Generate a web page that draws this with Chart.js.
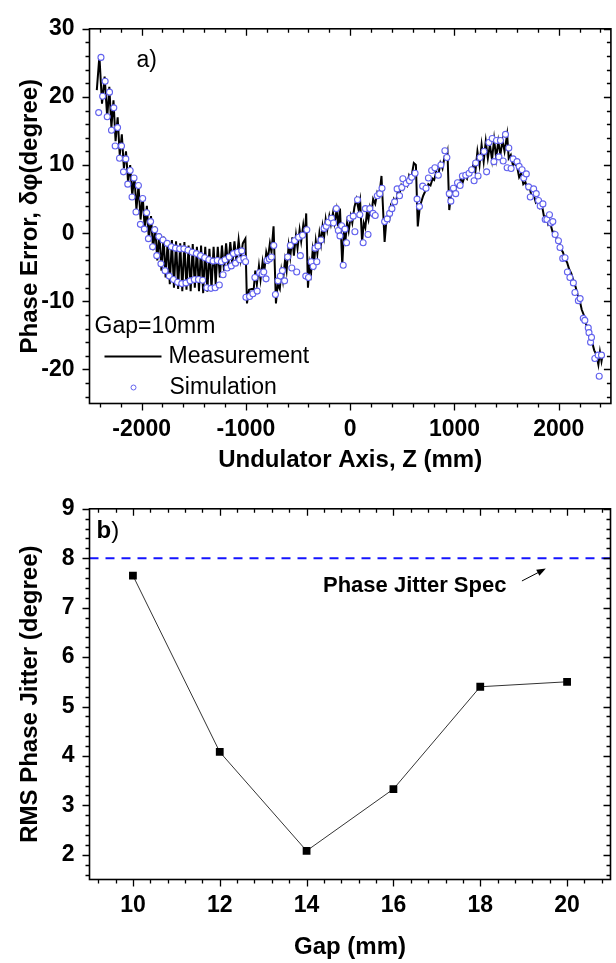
<!DOCTYPE html>
<html>
<head>
<meta charset="utf-8">
<title>Phase error and RMS phase jitter</title>
<script src="https://cdn.jsdelivr.net/npm/chart.js@4.4.1/dist/chart.umd.min.js"></script>
<style>
  body { margin: 0; background: #fff; }
  #wrap { position: relative; width: 616px; height: 963px; }
  canvas { position: absolute; left: 0; }
  #phaseChart { top: 0; }
  #jitterChart { top: 480px; }
</style>
</head>
<body>
<div id="wrap">
  <canvas id="phaseChart" width="616" height="480"></canvas>
  <canvas id="jitterChart" width="616" height="483"></canvas>
</div>
<script>
'use strict';

// panel a) phase error along the undulator, gap 10mm
let measZ = [
  -2430, -2405, -2380, -2355, -2330, -2310, -2290, -2270, -2250, -2230,
  -2210, -2190, -2170, -2150, -2130, -2110, -2090, -2070, -2050, -2030,
  -2010, -1990, -1970, -1950, -1930, -1910, -1890, -1870, -1850, -1830,
  -1810, -1790, -1770, -1750, -1730, -1710, -1690, -1670, -1650, -1630,
  -1610, -1590, -1570, -1550, -1530, -1510, -1490, -1470, -1450, -1430,
  -1410, -1390, -1370, -1350, -1330, -1310, -1290, -1270, -1250, -1230,
  -1210, -1190, -1170, -1150, -1130, -1110, -1090, -1070, -1050, -1030,
  -1005, -990, -970, -945, -925, -910, -895, -875, -860, -840,
  -825, -805, -790, -770, -755, -735, -712, -695, -675, -660,
  -645, -625, -610, -590, -575, -555, -540, -520, -505, -485,
  -470, -450, -435, -422, -405, -390, -375, -360, -345, -330,
  -315, -295, -280, -265, -250, -235, -220, -200, -185, -165,
  -150, -130, -115, -98, -76, -60, -45, -30, -15, 5,
  20, 40, 60, 80, 95, 114, 130, 145, 160, 175,
  190, 205, 220, 240, 260, 280, 300, 330, 345, 360,
  375, 390, 405, 420, 440, 455, 470, 490, 505, 525,
  545, 565, 585, 610, 630, 648, 665, 680, 700, 715,
  735, 750, 770, 790, 805, 825, 845, 865, 885, 905,
  920, 933, 950, 965, 985, 1005, 1020, 1040, 1060, 1080,
  1100, 1120, 1140, 1160, 1180, 1200, 1220, 1240, 1260, 1280,
  1300, 1320, 1340, 1360, 1380, 1400, 1420, 1440, 1460, 1480,
  1505, 1520, 1540, 1560, 1580, 1600, 1620, 1640, 1660, 1680,
  1700, 1720, 1740, 1760, 1780, 1800, 1820, 1840, 1860, 1880,
  1900, 1920, 1940, 1960, 1980, 2000, 2020, 2040, 2060, 2080,
  2100, 2120, 2140, 2160, 2180, 2200, 2220, 2240, 2260, 2280,
  2300, 2320, 2340, 2360, 2380, 2395, 2410, 2425];
let measPhase = [
  21, 26, 19, 23, 17, 21.5, 15.5, 19.5, 13.5, 17,
  11.5, 14.5, 9.5, 12, 7.5, 10, 5.5, 8.5, 3.5, 7,
  2, 5.5, 0.5, 4, -1, 2.5, -2.5, 1, -4, 0,
  -5.5, -0.5, -6.5, -1, -7.5, -1, -8, -1.2, -8.2, -1.5,
  -8.5, -1.3, -8.3, -1.8, -8.5, -1.6, -8, -2, -8.5, -1.8,
  -8.8, -2, -8.6, -2.3, -8.2, -2, -7.5, -2, -6.5, -1.8,
  -5.5, -1.5, -5, -1.3, -4.5, -1.2, -4.2, -1, -3.8, -1.5,
  -0.8, -10.3, -8.3, -8.2, -8.2, -5.5, -7.5, -4.8, -6.8, -4.2,
  -5.8, -2.8, -3.8, -1.5, -2.8, 1.0, -10.3, -7.5, -8.2, -5.5,
  -7, -4, -5.5, -1.8, -3.5, -0.6, -3.3, -0.3, -2.2, 0.5,
  -1.2, 1.2, -0.5, 2.9, -8.0, -4.5, -5.8, -2.5, -4.2, -1.2,
  -3, 0, -1.5, 1.0, -0.5, 2.0, 0.5, 2.5, 1.3, 3.0,
  1.5, 3.4, 1.0, 3.6, -4.7, 0.2, -1.0, 1.5, 0.3, 2.5,
  1.5, 3.8, 5.0, 3.5, 4.8, -1.3, 1.5, 0.8, 3.0, 2.0,
  3.8, 3.0, 5.0, 4.3, 6.0, 5.5, 8.4, -1.3, 1.5, 2.5,
  2.0, 4.0, 3.5, 5.0, 4.5, 6.0, 5.5, 7.0, 6.5, 7.5,
  7.0, 8.5, 8.0, 10.3, 10.0, 1.0, 3.5, 4.5, 5.5, 6.0,
  6.5, 7.2, 7.0, 8.0, 7.8, 9.0, 8.5, 10.3, 9.5, 11.2,
  11.0, 11.9, 3.4, 5.5, 6.3, 6.0, 7.0, 6.8, 8.0, 7.5,
  8.5, 8.0, 9.2, 8.8, 10.0, 9.0, 12.0, 10.0, 13.0, 10.5,
  13.5, 11.0, 13.0, 10.8, 13.8, 11.0, 13.5, 11.5, 13.6, 12.0,
  14.5, 11.0, 11.5, 10.0, 10.2, 9.8, 8.2, 8.8, 7.2, 7.5,
  6.5, 6.8, 5.3, 5.6, 4.5, 4.8, 3.7, 4.0, 2.3, 2.5,
  1.2, 1.4, 0.2, 0.2, -0.8, -1.0, -2.3, -2.8, -3.8, -4.3,
  -5.3, -5.9, -7.0, -7.8, -9.0, -9.8, -11.2, -12.0, -13.3, -14.0,
  -15.3, -16.0, -17.2, -17.8, -19.3, -17.4, -18.8, -17.5];

let simZ = [
  -2412, -2390, -2374, -2350, -2330, -2308, -2289, -2267, -2254, -2231,
  -2212, -2193, -2174, -2152, -2133, -2110, -2092, -2073, -2054, -2031,
  -2012, -1990, -1974, -1952, -1935, -1914, -1895, -1875, -1855, -1835,
  -1815, -1795, -1775, -1755, -1735, -1715, -1695, -1675, -1655, -1635,
  -1615, -1595, -1575, -1555, -1535, -1515, -1495, -1475, -1455, -1435,
  -1415, -1395, -1375, -1355, -1335, -1315, -1295, -1275, -1255, -1235,
  -1219, -1200, -1180, -1160, -1140, -1120, -1100, -1080, -1060, -1040,
  -1020, -1003, -1000, -965, -933, -914, -892, -870, -845, -829,
  -807, -797, -775, -755, -733, -717, -692, -670, -650, -629,
  -600, -574, -560, -533, -513, -495, -478, -457, -426, -416,
  -400, -374, -355, -336, -320, -309, -280, -250, -230, -210,
  -178, -160, -133, -114, -98, -82, -67, -50, -35, -3,
  29, 45, 70, 92, 124, 146, 171, 188, 219, 240,
  260, 283, 305, 330, 355, 378, 400, 426, 450, 473,
  495, 505, 536, 568, 590, 622, 641, 664, 695, 727,
  750, 781, 812, 845, 870, 908, 927, 950, 965, 990,
  1012, 1029, 1054, 1076, 1108, 1140, 1165, 1188, 1203, 1226,
  1245, 1283, 1308, 1330, 1362, 1378, 1403, 1426, 1441, 1467,
  1489, 1505, 1521, 1543, 1562, 1600, 1620, 1648, 1664, 1689,
  1711, 1727, 1759, 1784, 1806, 1822, 1848, 1870, 1886, 1911,
  1924, 1943, 1965, 1997, 2012, 2038, 2060, 2083, 2107, 2140,
  2155, 2188, 2205, 2235, 2250, 2283, 2290, 2305, 2314, 2346,
  2378, 2388, 2410];
let simPhase = [
  17.7, 25.8, 20.1, 22.3, 17.1, 20.7, 15.1, 18.4, 12.8, 15.5,
  11.0, 12.8, 9.0, 10.9, 7.2, 9.2, 5.3, 8.1, 3.1, 7.0,
  1.3, 5.1, 0.6, 3.0, -0.8, 1.7, -2.0, 0.5, -3.3, -0.5,
  -4.5, -1.0, -5.5, -1.5, -6.3, -2.0, -6.8, -2.2, -7.2, -2.3,
  -7.4, -2.3, -7.3, -2.5, -7.0, -2.8, -6.8, -3.0, -6.8, -3.3,
  -6.9, -3.6, -8.0, -3.9, -8.1, -4.1, -8.0, -4.0, -7.6, -4.2,
  -6.1, -3.9, -5.1, -3.5, -4.8, -3.0, -4.4, -2.8, -3.9, -2.6,
  -3.7, -4.2, -9.4, -9.3, -8.9, -6.5, -8.5, -5.8, -6.0, -5.7,
  -6.7, -4.0, -3.8, -3.5, -1.8, -9.0, -7.0, -6.3, -5.5, -7.0,
  -3.5, -1.8, -5.1, -1.1, -5.7, -0.6, -3.3, -0.3, -6.3, 0.5,
  -6.5, -4.2, -4.9, -2.2, -4.2, -1.9, -1.0, 0.7, 1.0, 1.6,
  2.2, 1.5, 3.6, 0.4, -0.4, 1.1, -4.7, 0.6, -1.4, 2.2,
  2.5, 0.2, 4.9, 2.7, -1.4, 3.6, -0.2, 3.6, 2.9, 2.6,
  5.5, 5.8, 6.6, 1.7, 2.1, 2.9, 3.6, 4.6, 6.5, 5.5,
  6.7, 8.0, 7.3, 7.7, 8.2, 8.8, 5.0, 3.9, 6.9, 6.6,
  8.1, 9.2, 9.6, 8.5, 10.0, 12.1, 11.1, 5.8, 4.7, 6.6,
  5.8, 7.4, 7.0, 8.4, 8.5, 8.8, 9.3, 7.7, 10.3, 8.4,
  11.1, 12.0, 9.0, 13.3, 13.9, 10.5, 13.6, 11.2, 13.6, 10.6,
  14.5, 9.6, 12.5, 9.5, 10.9, 10.5, 9.8, 9.3, 8.1, 8.7,
  6.8, 5.3, 6.5, 5.8, 4.8, 4.0, 4.3, 2.0, 2.0, 2.7,
  1.5, 1.7, -0.2, -1.1, -2.1, -3.7, -3.6, -5.7, -6.5, -7.3,
  -8.7, -9.9, -9.6, -12.5, -12.8, -13.9, -14.6, -16.0, -15.3, -18.4,
  -17.9, -21.0, -17.9];

let zTicks = [-2000, -1000, 0, 1000, 2000];
let phaseTicks = [-20, -10, 0, 10, 20, 30];

// panel b) rms phase jitter against gap
let gapMm = [10, 12, 14, 16, 18, 20];
let rmsJitter = [7.65, 4.08, 2.08, 3.33, 5.4, 5.5];
let specJitter = 8;
let gapTicks = [10, 12, 14, 16, 18, 20];
let jitterTicks = [2, 3, 4, 5, 6, 7, 8, 9];
let gapMin = 9;
let gapMax = 21;

const fontFamily = "'Liberation Sans', Arial, Helvetica, sans-serif";
const tickFont = {family: fontFamily, size: 23, weight: 'bold'};
const titleFont = {family: fontFamily, size: 24, weight: 'bold'};
const simColor = '#6262ee';

function toPoints(xs, ys) {
  return xs.map((x, i) => ({x: x, y: ys[i]}));
}

function fixedTicks(list) {
  return function (scale) {
    scale.ticks = list.map(v => ({value: v}));
  };
}

function stepValues(min, max, step) {
  let out = [];
  let start = Math.ceil(min / step - 1e-9);
  let end = Math.floor(max / step + 1e-9);
  for (let k = start; k <= end; k++) {
    out.push(k * step);
  }
  return out;
}

function isMajor(v, major) {
  let r = v / major;
  return Math.abs(r - Math.round(r)) < 1e-6;
}

// box round the plot, ticks out on left/bottom and in on top/right
const boxTicks = {
  id: 'boxTicks',
  afterDraw(chart, args, opts) {
    const ctx = chart.ctx;
    const a = chart.chartArea;
    const xs = chart.scales.x;
    const ys = chart.scales.y;
    ctx.save();
    ctx.strokeStyle = '#000';
    ctx.lineWidth = 1.6;
    ctx.strokeRect(a.left, a.top, a.right - a.left, a.bottom - a.top);
    ctx.lineWidth = 1.3;
    ctx.beginPath();
    stepValues(xs.min, xs.max, opts.xMinor).forEach(v => {
      let len = isMajor(v, opts.xMajor) ? 7 : 4;
      let px = Math.round(xs.getPixelForValue(v)) + 0.5;
      ctx.moveTo(px, a.bottom);
      ctx.lineTo(px, a.bottom + len);
      ctx.moveTo(px, a.top);
      ctx.lineTo(px, a.top + len);
    });
    stepValues(ys.min, ys.max, opts.yMinor).forEach(v => {
      let len = isMajor(v, opts.yMajor) ? 7 : 4;
      let py = Math.round(ys.getPixelForValue(v)) + 0.5;
      ctx.moveTo(a.left - len, py);
      ctx.lineTo(a.left, py);
      ctx.moveTo(a.right - len, py);
      ctx.lineTo(a.right, py);
    });
    ctx.stroke();
    ctx.restore();
  }
};

// "a)" and the legend inside panel a
const phaseNotes = {
  id: 'phaseNotes',
  afterDraw(chart) {
    const ctx = chart.ctx;
    const a = chart.chartArea;
    ctx.save();
    ctx.fillStyle = '#000';
    ctx.textBaseline = 'middle';
    ctx.font = '23px ' + fontFamily;
    ctx.fillText('a)', a.left + 47, a.top + 32);
    ctx.fillText('Gap=10mm', a.left + 5, a.bottom - 77);
    ctx.fillText('Measurement', a.left + 79, a.bottom - 47);
    ctx.fillText('Simulation', a.left + 80, a.bottom - 16);
    ctx.strokeStyle = '#000';
    ctx.lineWidth = 2;
    ctx.beginPath();
    ctx.moveTo(a.left + 15, a.bottom - 47);
    ctx.lineTo(a.left + 72, a.bottom - 47);
    ctx.stroke();
    ctx.strokeStyle = simColor;
    ctx.lineWidth = 1;
    ctx.beginPath();
    ctx.arc(a.left + 44, a.bottom - 16, 2.5, 0, Math.PI * 2);
    ctx.stroke();
    ctx.restore();
  }
};

// "b)", spec label and its arrow in panel b
const jitterNotes = {
  id: 'jitterNotes',
  afterDraw(chart) {
    const ctx = chart.ctx;
    const a = chart.chartArea;
    const xs = chart.scales.x;
    const ys = chart.scales.y;
    ctx.save();
    ctx.fillStyle = '#000';
    ctx.textBaseline = 'middle';
    ctx.font = 'bold 24px ' + fontFamily;
    ctx.fillText('b', a.left + 7, a.top + 23);
    let bw = ctx.measureText('b').width;
    ctx.font = '24px ' + fontFamily;
    ctx.fillText(')', a.left + 7 + bw, a.top + 23);

    ctx.font = 'bold 22px ' + fontFamily;
    ctx.textAlign = 'center';
    ctx.fillText('Phase Jitter Spec', xs.getPixelForValue(16.49), ys.getPixelForValue(7.44));

    let x0 = xs.getPixelForValue(18.96), y0 = ys.getPixelForValue(7.54);
    let x1 = xs.getPixelForValue(19.51), y1 = ys.getPixelForValue(7.79);
    let ang = Math.atan2(y1 - y0, x1 - x0);
    ctx.strokeStyle = '#000';
    ctx.lineWidth = 1;
    ctx.beginPath();
    ctx.moveTo(x0, y0);
    ctx.lineTo(x1 - 6 * Math.cos(ang), y1 - 6 * Math.sin(ang));
    ctx.stroke();
    ctx.beginPath();
    ctx.moveTo(x1, y1);
    ctx.lineTo(x1 - 9 * Math.cos(ang) + 3.5 * Math.sin(ang), y1 - 9 * Math.sin(ang) - 3.5 * Math.cos(ang));
    ctx.lineTo(x1 - 9 * Math.cos(ang) - 3.5 * Math.sin(ang), y1 - 9 * Math.sin(ang) + 3.5 * Math.cos(ang));
    ctx.closePath();
    ctx.fill();
    ctx.restore();
  }
};

function axisX(min, max, ticks, title, height, padBottom) {
  return {
    type: 'linear',
    min: min,
    max: max,
    afterBuildTicks: fixedTicks(ticks),
    afterFit: s => { s.height = height; },
    grid: {display: false, drawTicks: false, tickLength: 0},
    border: {display: false},
    ticks: {font: tickFont, color: '#000', padding: 12, maxRotation: 0, autoSkip: false, callback: v => String(v)},
    title: {display: true, text: title, font: titleFont, color: '#000', padding: {top: 0, bottom: padBottom}}
  };
}

function axisY(min, max, ticks, title) {
  return {
    type: 'linear',
    min: min,
    max: max,
    afterBuildTicks: fixedTicks(ticks),
    afterFit: s => { s.width = 89.5; },
    grid: {display: false, drawTicks: false, tickLength: 0},
    border: {display: false},
    ticks: {font: tickFont, color: '#000', padding: 15, autoSkip: false, callback: v => String(v)},
    title: {display: true, text: title, font: titleFont, color: '#000', padding: {top: 16, bottom: 0}}
  };
}

new Chart(document.getElementById('phaseChart'), {
  type: 'scatter',
  data: {
    datasets: [{
      label: 'Simulation',
      data: toPoints(simZ, simPhase),
      showLine: false,
      pointStyle: 'circle',
      pointRadius: 3,
      pointBorderWidth: 1.1,
      pointBorderColor: simColor,
      pointBackgroundColor: '#fff'
    }, {
      label: 'Measurement',
      data: toPoints(measZ, measPhase),
      showLine: true,
      borderColor: '#000',
      borderWidth: 2,
      pointRadius: 0,
      tension: 0
    }]
  },
  options: {
    responsive: false,
    animation: false,
    devicePixelRatio: 1,
    layout: {padding: {top: 16, right: 2, left: 0, bottom: 0}},
    plugins: {
      legend: {display: false},
      tooltip: {enabled: false},
      boxTicks: {xMinor: 200, xMajor: 1000, yMinor: 2, yMajor: 10}
    },
    scales: {
      x: axisX(-2500, 2500, zTicks, 'Undulator Axis, Z (mm)', 76.5, 5),
      y: axisY(-25, 30, phaseTicks, 'Phase Error, δφ(degree)')
    }
  },
  plugins: [boxTicks, phaseNotes]
});

new Chart(document.getElementById('jitterChart'), {
  type: 'scatter',
  data: {
    datasets: [{
      label: 'RMS Phase Jitter',
      data: toPoints(gapMm, rmsJitter),
      showLine: true,
      borderColor: '#333',
      borderWidth: 1,
      pointStyle: 'rect',
      pointRadius: 5.5,
      pointBorderWidth: 0,
      pointBackgroundColor: '#000',
      tension: 0
    }, {
      label: 'Phase Jitter Spec',
      data: [{x: gapMin, y: specJitter}, {x: gapMax, y: specJitter}],
      showLine: true,
      borderColor: '#1414ff',
      borderWidth: 2.2,
      borderDash: [9, 7],
      pointRadius: 0
    }]
  },
  options: {
    responsive: false,
    animation: false,
    devicePixelRatio: 1,
    layout: {padding: {top: 11, right: 3, left: 0, bottom: 0}},
    plugins: {
      legend: {display: false},
      tooltip: {enabled: false},
      boxTicks: {xMinor: 0.4, xMajor: 2, yMinor: 0.2, yMajor: 1}
    },
    scales: {
      x: axisX(gapMin, gapMax, gapTicks, 'Gap (mm)', 83.5, 1),
      y: axisY(1.5, 9, jitterTicks, 'RMS Phase Jitter (degree)')
    }
  },
  plugins: [boxTicks, jitterNotes]
});
</script>
</body>
</html>
